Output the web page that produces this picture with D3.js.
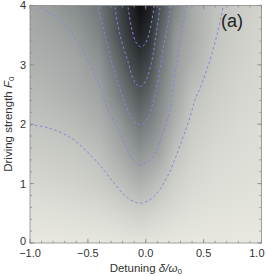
<!DOCTYPE html>
<html>
<head>
<meta charset="utf-8">
<script src="https://cdn.jsdelivr.net/npm/d3@7"></script>
<style>
  body { margin: 0; background: #fff; }
  svg { display: block; }
  text { font-family: "Liberation Sans", Arial, sans-serif; }
</style>
</head>
<body>
<div id="chart"></div>
<script>
// density grid (arbitrary level units, 0 = lightest)
var detuning = [-1, -0.8, -0.6, -0.4, -0.25, -0.12, -0.05, 0.03, 0.12, 0.25, 0.4, 0.6, 0.8, 1.0];
var strength = [0, 0.5, 1, 1.5, 2, 2.5, 3, 3.5, 4];
var level = [
  [0.02, 0.03, 0.04, 0.05, 0.07, 0.09, 0.10, 0.09, 0.07, 0.05, 0.04, 0.03, 0.02, 0.02],
  [0.22, 0.25, 0.30, 0.38, 0.50, 0.65, 0.72, 0.65, 0.52, 0.36, 0.25, 0.18, 0.15, 0.12],
  [0.48, 0.55, 0.65, 0.80, 1.05, 1.38, 1.52, 1.40, 1.10, 0.70, 0.45, 0.33, 0.27, 0.22],
  [0.75, 0.82, 0.90, 1.12, 1.60, 2.05, 2.28, 2.10, 1.85, 1.05, 0.65, 0.45, 0.35, 0.30],
  [1.00, 1.10, 1.25, 1.55, 2.05, 2.70, 3.00, 2.75, 2.30, 1.55, 0.85, 0.60, 0.45, 0.35],
  [1.25, 1.40, 1.60, 1.90, 2.70, 3.45, 3.80, 3.45, 2.70, 1.90, 1.10, 0.75, 0.55, 0.45],
  [1.50, 1.62, 1.80, 2.25, 3.20, 4.20, 4.50, 4.20, 3.10, 2.10, 1.50, 0.90, 0.65, 0.50],
  [1.70, 1.85, 2.10, 2.70, 3.85, 4.85, 5.45, 4.90, 3.60, 2.30, 1.70, 1.03, 0.75, 0.55],
  [1.85, 2.15, 2.50, 3.05, 4.10, 5.30, 6.10, 5.60, 4.10, 2.75, 1.75, 1.12, 0.85, 0.60]
];

// dashed contour lines, [detuning, strength]
var contour1 = [[-1.0, 1.99], [-0.845, 1.94], [-0.654, 1.78], [-0.525, 1.57], [-0.395, 1.31], [-0.283, 1.03],
  [-0.162, 0.77], [-0.05, 0.67], [0.063, 0.77], [0.184, 1.11], [0.313, 1.73], [0.382, 2.12], [0.425, 2.41],
  [0.486, 2.69], [0.581, 3.25], [0.667, 3.96], [0.672, 4.05]];
var contour2 = [[-0.915, 4.05], [-0.905, 3.97], [-0.732, 3.75], [-0.585, 3.37], [-0.473, 2.96], [-0.387, 2.58], [-0.326, 2.24],
  [-0.222, 1.85], [-0.110, 1.40], [-0.05, 1.31], [0.063, 1.45], [0.149, 1.85], [0.210, 2.24], [0.235, 2.58],
  [0.270, 3.08], [0.305, 3.50], [0.348, 3.97], [0.352, 4.05]];
var contour3 = [[-0.418, 4.05], [-0.413, 3.97], [-0.361, 3.59], [-0.309, 3.16], [-0.248, 2.74], [-0.179, 2.36], [-0.110, 2.07],
  [-0.05, 1.99], [0.011, 2.07], [0.063, 2.37], [0.106, 2.74], [0.149, 3.25], [0.210, 3.92], [0.215, 4.05]];
var contour4 = [[-0.27, 4.05], [-0.266, 3.97], [-0.222, 3.50], [-0.153, 3.05], [-0.102, 2.74], [-0.05, 2.63], [0.002, 2.74],
  [0.054, 3.08], [0.089, 3.50], [0.123, 3.97], [0.126, 4.05]];
var contour5 = [[-0.156, 4.05], [-0.153, 3.97], [-0.119, 3.59], [-0.084, 3.38], [-0.041, 3.30], [0.002, 3.38],
  [0.037, 3.59], [0.071, 3.97], [0.074, 4.05]];
var contours = [contour1, contour2, contour3, contour4, contour5];

var xTicks = [-1, -0.5, 0, 0.5, 1];
var yTicks = [0, 1, 2, 3, 4];

var width = 266, height = 276;
var margin = {top: 5.4, right: 4.5, bottom: 33, left: 30};
var plotW = width - margin.left - margin.right;
var plotH = height - margin.top - margin.bottom;

var svg = d3.select("#chart").append("svg")
  .attr("width", width)
  .attr("height", height);

var x = d3.scaleLinear().domain([-1, 1]).range([0, plotW]);
var y = d3.scaleLinear().domain([0, 4]).range([plotH, 0]);

var shade = d3.scaleLinear()
  .domain([0, 1, 2, 3, 4, 5, 6.2])
  .range(["#e9e9e1", "#c3c5c0", "#9ca09f", "#727779", "#4b5053", "#2a2d30", "#0c0c0c"])
  .clamp(true);

// bilinear lookup on the irregular grid
function lookup(d, f){
  var i = Math.min(Math.max(d3.bisectRight(detuning, d) - 1, 0), detuning.length - 2);
  var j = Math.min(Math.max(d3.bisectRight(strength, f) - 1, 0), strength.length - 2);
  var tx = (d - detuning[i]) / (detuning[i+1] - detuning[i]);
  var ty = (f - strength[j]) / (strength[j+1] - strength[j]);
  tx = Math.max(0, Math.min(1, tx));
  ty = Math.max(0, Math.min(1, ty));
  var a = level[j][i] * (1 - tx) + level[j][i+1] * tx;
  var b = level[j+1][i] * (1 - tx) + level[j+1][i+1] * tx;
  return a * (1 - ty) + b * ty;
}

var cw = Math.round(plotW), ch = Math.round(plotH);
var canvas = document.createElement("canvas");
canvas.width = cw;
canvas.height = ch;
var ctx = canvas.getContext("2d");
var img = ctx.createImageData(cw, ch);
for (var py = 0; py < ch; py++){
  for (var px = 0; px < cw; px++){
    var c = d3.rgb(shade(lookup(x.invert(px + 0.5), y.invert(py + 0.5))));
    var k = (py * cw + px) * 4;
    img.data[k] = c.r;
    img.data[k+1] = c.g;
    img.data[k+2] = c.b;
    img.data[k+3] = 255;
  }
}
ctx.putImageData(img, 0, 0);

var g = svg.append("g").attr("transform", "translate(" + margin.left + "," + margin.top + ")");

g.append("defs").append("clipPath").attr("id", "clip")
  .append("rect").attr("width", plotW).attr("height", plotH);

g.append("image")
  .attr("width", plotW)
  .attr("height", plotH)
  .attr("preserveAspectRatio", "none")
  .attr("href", canvas.toDataURL());

var line = d3.line()
  .x(function(d){ return x(d[0]); })
  .y(function(d){ return y(d[1]); })
  .curve(d3.curveCatmullRom);

g.append("g").attr("clip-path", "url(#clip)")
  .selectAll("path")
  .data(contours)
  .enter().append("path")
  .attr("d", line)
  .attr("fill", "none")
  .attr("stroke", "#8585dc")
  .attr("stroke-width", 1)
  .attr("stroke-dasharray", "2.5,2.5");

// frame with ticks on all four sides
var frameColor = "#8c8c8c";
var xMinor = d3.range(-1, 1.0001, 0.1);
var yMinor = d3.range(0, 4.0001, 0.2);

function ticks(sel, vals, len, side){
  sel.selectAll(null).data(vals).enter().append("line")
    .attr("x1", function(d){ return side === "b" || side === "t" ? x(d) : (side === "l" ? 0 : plotW); })
    .attr("x2", function(d){ return side === "b" || side === "t" ? x(d) : (side === "l" ? len : plotW - len); })
    .attr("y1", function(d){ return side === "l" || side === "r" ? y(d) : (side === "b" ? plotH : 0); })
    .attr("y2", function(d){ return side === "l" || side === "r" ? y(d) : (side === "b" ? plotH - len : len); })
    .attr("stroke", frameColor)
    .attr("stroke-width", 0.8);
}

var fr = g.append("g");
["b", "t"].forEach(function(s){ ticks(fr, xMinor, 2.2, s); ticks(fr, xTicks, 4.2, s); });
["l", "r"].forEach(function(s){ ticks(fr, yMinor, 2.2, s); ticks(fr, yTicks, 4.2, s); });

fr.append("rect")
  .attr("width", plotW)
  .attr("height", plotH)
  .attr("fill", "none")
  .attr("stroke", frameColor)
  .attr("stroke-width", 0.8);

var fmtX = function(d){ return d3.format(".1f")(d).replace("-", "\u2212"); };

g.selectAll(".xl").data(xTicks).enter().append("text")
  .attr("x", function(d){ return d === 1 ? x(d) + 3 : x(d); })
  .attr("y", plotH + 14.5)
  .attr("text-anchor", function(d){ return d === 1 ? "end" : "middle"; })
  .attr("font-size", 11)
  .attr("fill", "#333")
  .text(fmtX);

g.selectAll(".yl").data(yTicks).enter().append("text")
  .attr("x", -4)
  .attr("y", function(d){ return d === 0 ? y(d) + 2 : y(d) + 4; })
  .attr("text-anchor", "end")
  .attr("font-size", 11)
  .attr("fill", "#333")
  .text(function(d){ return d; });

// axis titles
var xt = svg.append("text")
  .attr("x", margin.left + x(0))
  .attr("y", 272)
  .attr("text-anchor", "middle")
  .attr("font-size", 11.5)
  .attr("fill", "#333");
xt.append("tspan").text("Detuning ");
xt.append("tspan").attr("font-style", "italic").text("\u03b4/\u03c9");
xt.append("tspan").attr("font-size", 8).attr("dy", 2).text("0");

var yt = svg.append("text")
  .attr("transform", "translate(12," + (margin.top + plotH / 2) + ") rotate(-90)")
  .attr("text-anchor", "middle")
  .attr("font-size", 11.5)
  .attr("fill", "#333");
yt.append("tspan").text("Driving strength ");
yt.append("tspan").attr("font-style", "italic").text("F");
yt.append("tspan").attr("font-size", 8).attr("dy", 2).text("0");

svg.append("text")
  .attr("x", 232)
  .attr("y", 27)
  .attr("text-anchor", "middle")
  .attr("font-size", 18)
  .attr("fill", "#222")
  .text("(a)");
</script>
</body>
</html>
